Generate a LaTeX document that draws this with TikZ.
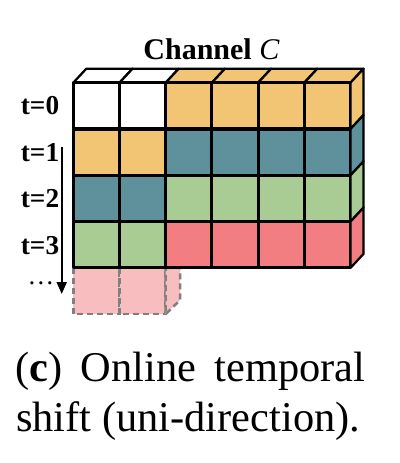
\documentclass[tikz,border=0pt]{standalone}
\usepackage{fontspec}
\setmainfont{Liberation Serif}
\usepackage{tikz}
\usetikzlibrary{arrows.meta}
\definecolor{cTan}{RGB}{242,197,116}
\definecolor{cTeal}{RGB}{94,145,156}
\definecolor{cGreen}{RGB}{169,204,148}
\definecolor{cRed}{RGB}{243,126,129}
\definecolor{cGhost}{RGB}{248,189,191}

\begin{document}
\begin{tikzpicture}[x=0.75pt,y=-0.75pt,
   cell/.style={draw,line width=2.3pt,line join=round},
   face/.style={draw,line width=1.7pt,line join=round},
   ghost/.style={draw=gray,dash pattern=on 4.5pt off 3pt,line width=1.9pt,fill=cGhost},
   tlab/.style={anchor=base,font=\fontsize{20.5}{24}\selectfont\bfseries,inner sep=0pt},
   capt/.style={anchor=base west,font=\fontsize{31.8}{38}\selectfont,inner sep=0pt}]
\useasboundingbox (0,0) rectangle (399,463);
\def\cw{46.2}\def\ch{46.3}\def\dx{13}\def\dy{14}
\def\xo{73.3}\def\yo{82.7}

%% ---- ghost row (next frame) ----
\foreach \c in {0,1}
  \filldraw[ghost] ({\xo+\c*\cw},{\yo+4*\ch}) rectangle ++(\cw,\ch);
\filldraw[ghost] ({\xo+2*\cw},{\yo+4*\ch}) -- ++(14.5,0) -- ++(0,32) -- ({\xo+2*\cw},{\yo+5*\ch}) -- cycle;

%% ---- top faces ----
\foreach \c/\fc in {0/white,1/white,2/cTan,3/cTan,4/cTan,5/cTan}
  \filldraw[face,fill=\fc] ({\xo+\c*\cw},\yo) -- ++(\dx,-\dy) -- ++(\cw,0) -- ++(-\dx,\dy) -- cycle;

%% ---- front cells and side faces ----
\foreach \r/\ca/\cb in {0/white/cTan,1/cTan/cTeal,2/cTeal/cGreen,3/cGreen/cRed} {
  \foreach \c in {0,1}
    \filldraw[cell,fill=\ca] ({\xo+\c*\cw},{\yo+\r*\ch}) rectangle ++(\cw,\ch);
  \foreach \c in {2,...,5}
    \filldraw[cell,fill=\cb] ({\xo+\c*\cw},{\yo+\r*\ch}) rectangle ++(\cw,\ch);
  \filldraw[face,fill=\cb] ({\xo+6*\cw},{\yo+\r*\ch}) -- ++(\dx,-\dy) -- ++(0,\ch) -- ++(-\dx,\dy) -- cycle;
}

%% ---- labels ----
\node[anchor=base,inner sep=0pt,font=\fontsize{22.5}{26}\selectfont] (chan) at (211.5,60) {\textbf{Channel} \textit{C}};
\foreach \r in {0,...,3}
  \node[tlab] (t\r) at (40,{115+\r*46.4}) {t=\r};
\node[anchor=base,inner sep=0pt,font=\fontsize{20}{24}\selectfont] (dots) at (41,284) {\dots};

%% ---- time arrow ----
\coordinate (arrS) at (61.7,146.7);
\coordinate (arrE) at (61.7,294);
\draw[line width=1.5pt,-{Triangle[length=9pt,width=7.5pt]}] (arrS) -- (arrE);

%% ---- caption ----
\node[capt] (cap1) at (15,381.7) {\makebox[262.5pt][s]{(\textbf{c}) Online temporal}};
\node[capt] (cap2) at (16,431.7) {shift (uni-direction).};
\end{tikzpicture}
\end{document}
